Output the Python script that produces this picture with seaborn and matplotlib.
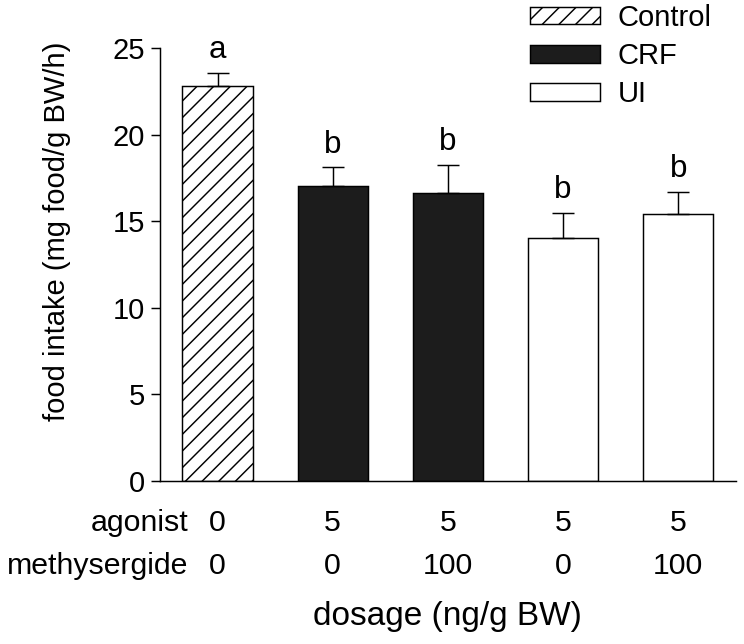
import numpy as np
import pandas as pd
import matplotlib
matplotlib.use("Agg")
import matplotlib.pyplot as plt
import seaborn as sns
from matplotlib.patches import Patch

# values
conditions = ["ctrl", "crf", "crf_m", "ui", "ui_m"]
groups = ["Control", "CRF", "CRF", "UI", "UI"]
agonist = ["0", "5", "5", "5", "5"]
methysergide = ["0", "0", "100", "0", "100"]
means = [22.8, 17.05, 16.65, 14.05, 15.4]
sems = [0.75, 1.05, 1.6, 1.4, 1.3]
letters = ["a", "b", "b", "b", "b"]

colors = {"Control": "white", "CRF": "#1c1c1c", "UI": "white"}
hatches = {"Control": "///", "CRF": "", "UI": ""}

sns.set_style("ticks", {"axes.edgecolor": "black", "text.color": "black",
                        "axes.labelcolor": "black", "xtick.color": "black",
                        "ytick.color": "black"})
plt.rcParams["font.family"] = ["Liberation Sans", "DejaVu Sans"]
plt.rcParams["hatch.linewidth"] = 0.7

df = pd.DataFrame({"cond": conditions, "group": groups, "mean": means})

dpi = 150
fig = plt.figure(figsize=(744 / dpi, 644 / dpi), dpi=dpi)
ax = fig.add_axes([0.215, 0.2531, 0.774, 0.6724])

sns.barplot(data=df, x="cond", y="mean", hue="group", palette=colors,
            dodge=False, width=0.61, edgecolor="black", linewidth=0.7,
            legend=False, ax=ax)

# hatch / colour each bar by its group
bars = sorted(ax.patches, key=lambda p: p.get_x())
for bar, g in zip(bars, groups):
    bar.set_hatch(hatches[g])
    bar.set_facecolor(colors[g])

x = np.arange(len(conditions))
ax.errorbar(x, means, yerr=[np.zeros(len(sems)), sems], fmt="none",
            ecolor="black", elinewidth=0.7, capsize=5.5, capthick=0.7, zorder=1)

for xi, m, s, lt in zip(x, means, sems, letters):
    ax.annotate(lt, (xi, m + s), xytext=(0, 11), textcoords="offset points",
                ha="center", va="center", fontsize=15, color="black")

ax.set_xlim(-0.5, 4.5)
ax.set_ylim(0, 25)
ax.set_yticks([0, 5, 10, 15, 20, 25])
sns.despine(ax=ax)
for sp in ["left", "bottom"]:
    ax.spines[sp].set_linewidth(0.7)
    ax.spines[sp].set_color("black")
ax.tick_params(axis="y", length=4.3, width=0.7, labelsize=14, pad=3,
               color="black", labelcolor="black")
ax.tick_params(axis="x", length=0, labelbottom=False)

tr = ax.get_xaxis_transform()
for xi, a, m in zip(x, agonist, methysergide):
    ax.text(xi, -0.097, a, transform=tr, ha="center", va="center", fontsize=14.5)
    ax.text(xi, -0.196, m, transform=tr, ha="center", va="center", fontsize=14.5)
ax.text(-0.25, -0.097, "agonist", transform=tr, ha="right", va="center", fontsize=14.5)
ax.text(-0.25, -0.196, "methysergide", transform=tr, ha="right", va="center", fontsize=14.5)

ax.set_xlabel("dosage (ng/g BW)", fontsize=16, va="center")
ax.xaxis.set_label_coords(0.5, -0.314)
ax.set_ylabel("food intake (mg food/g BW/h)", fontsize=14, va="center")
ax.yaxis.set_label_coords(-0.179, 0.577)

handles = [Patch(facecolor=colors[g], edgecolor="black", hatch=hatches[g],
                 linewidth=0.7, label=g) for g in ["Control", "CRF", "UI"]]
fig.legend(handles=handles, loc="upper left", bbox_to_anchor=(530 / 744, 1 - 4 / 644),
           frameon=False, fontsize=14, handlelength=2.4, handleheight=0.55,
           handletextpad=0.6, labelspacing=0.35, borderpad=0, borderaxespad=0)

fig.savefig("out.png", dpi=dpi)
